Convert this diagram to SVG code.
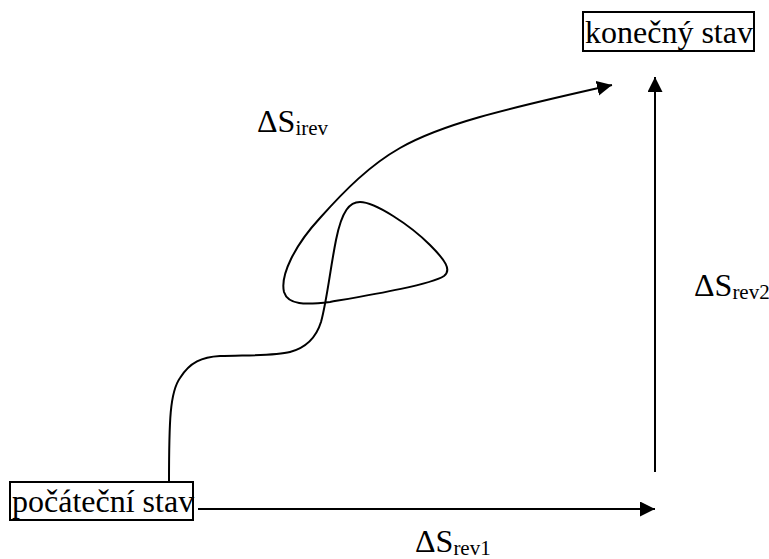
<svg xmlns="http://www.w3.org/2000/svg" width="769" height="559" viewBox="0 0 769 559">
<defs>
<style>
.box{fill:#fff;stroke:#000;stroke-width:2}
.t{font-family:'Liberation Serif','Times New Roman','DejaVu Serif','Noto Serif',serif;font-size:32px;fill:#000}
.sub{font-size:21px}
.ln{fill:none;stroke:#000;stroke-width:2}
</style>
<marker id="ah" markerUnits="userSpaceOnUse" markerWidth="16" markerHeight="16" refX="15" refY="7.5" orient="auto" viewBox="0 0 16 16">
<path d="M0,0 L15,7.5 L0,15 Z" fill="#000"/>
</marker>
</defs>
<rect width="769" height="559" fill="#fff"/>
<g id="connectors">
<path class="ln" d="M169,483 C169,420 170,392 180,378 C190,362 202,357 220,356 C245,355 275,356 290,352 C305,348 316,338 321,322 C327,300 330,270 336,240 C342,210 350,202 360,202 C375,202 410,225 430,245 C445,260 452,270 444,276 C430,285 370,295 330,302 C305,305 288,305 284,292 C280,275 295,245 320,218 C345,190 370,165 400,148 C440,125 500,110 612,85" marker-end="url(#ah)"/>
<path class="ln" d="M198,509 L655,509" marker-end="url(#ah)"/>
<path class="ln" d="M655,472 L655,77" marker-end="url(#ah)"/>
</g>
<g id="start">
<rect class="box" x="10" y="482" width="183" height="38"/>
<text class="t" x="12" y="512">počáteční stav</text>
</g>
<g id="end">
<rect class="box" x="583" y="12" width="171" height="39"/>
<text class="t" x="585" y="43">konečný stav</text>
</g>
<g id="labels">
<text class="t" x="257" y="132">ΔS<tspan class="sub" dy="3">irev</tspan></text>
<text class="t" x="694" y="296">ΔS<tspan class="sub" dy="3">rev2</tspan></text>
<text class="t" x="415" y="552">ΔS<tspan class="sub" dy="3">rev1</tspan></text>
</g>
</svg>
